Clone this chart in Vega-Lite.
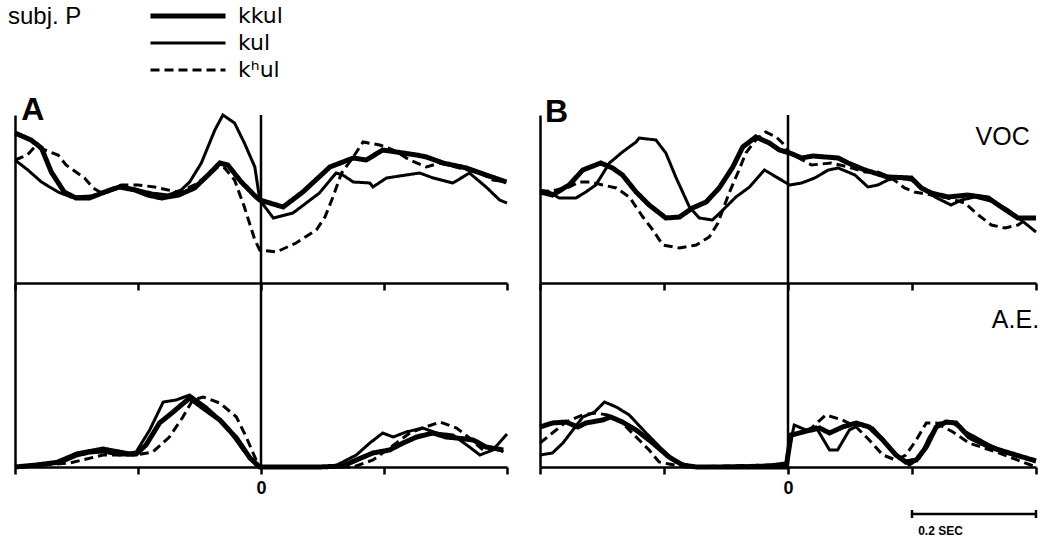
{
 "$schema": "https://vega.github.io/schema/vega-lite/v6.json",
 "background": "white",
 "padding": 5,
 "bounds": "flush",
 "columns": 2,
 "spacing": {"row": 0, "column": 33},
 "config": {
  "view": {"stroke": null},
  "font": "Liberation Sans",
  "axis": {"domainColor": "black", "domainWidth": 2.5, "tickColor": "black", "tickWidth": 2.5, "grid": false, "title": null},
  "legend": {
   "orient": "none", "legendX": -7, "legendY": -110, "padding": 0,
   "titleOrient": "left", "titleFont": "Liberation Sans", "titleFontSize": 24, "titleFontWeight": "normal", "titleColor": "black",
   "titlePadding": 66, "titleBaseline": "top", "titleAnchor": "start", "titleLimit": 300,
   "labelFont": "DejaVu Sans", "labelFontSize": 22, "labelColor": "black", "labelOffset": 10,
   "symbolType": "stroke", "symbolSize": 5625, "symbolStrokeColor": "black", "clipHeight": 22, "rowPadding": 5
  }
 },
 "datasets": {
  "AV": [
   {"s":"kkul","t":-400,"v":150},{"s":"kkul","t":-374,"v":143},{"s":"kkul","t":-357,"v":135},{"s":"kkul","t":-341,"v":111},{"s":"kkul","t":-320,"v":91},{"s":"kkul","t":-301,"v":85},{"s":"kkul","t":-279,"v":85},{"s":"kkul","t":-254,"v":91},{"s":"kkul","t":-230,"v":96},{"s":"kkul","t":-205,"v":93},{"s":"kkul","t":-184,"v":88},{"s":"kkul","t":-162,"v":85},{"s":"kkul","t":-134,"v":88},{"s":"kkul","t":-108,"v":95},{"s":"kkul","t":-86,"v":108},{"s":"kkul","t":-67,"v":120},{"s":"kkul","t":-54,"v":118},{"s":"kkul","t":-32,"v":101},{"s":"kkul","t":-8,"v":86},{"s":"kkul","t":-2,"v":83},{"s":"kkul","t":36,"v":76},{"s":"kkul","t":68,"v":91},{"s":"kkul","t":112,"v":116},{"s":"kkul","t":150,"v":125},{"s":"kkul","t":171,"v":123},{"s":"kkul","t":198,"v":133},{"s":"kkul","t":220,"v":131},{"s":"kkul","t":253,"v":128},{"s":"kkul","t":269,"v":126},{"s":"kkul","t":296,"v":120},{"s":"kkul","t":334,"v":115},{"s":"kkul","t":366,"v":108},{"s":"kkul","t":399,"v":101},
   {"s":"kul","t":-400,"v":123},{"s":"kul","t":-379,"v":113},{"s":"kul","t":-357,"v":101},{"s":"kul","t":-330,"v":91},{"s":"kul","t":-309,"v":86},{"s":"kul","t":-276,"v":87},{"s":"kul","t":-249,"v":91},{"s":"kul","t":-230,"v":97},{"s":"kul","t":-205,"v":94},{"s":"kul","t":-178,"v":90},{"s":"kul","t":-151,"v":88},{"s":"kul","t":-130,"v":93},{"s":"kul","t":-116,"v":101},{"s":"kul","t":-97,"v":120},{"s":"kul","t":-75,"v":153},{"s":"kul","t":-62,"v":168},{"s":"kul","t":-43,"v":160},{"s":"kul","t":-27,"v":140},{"s":"kul","t":-10,"v":116},{"s":"kul","t":-2,"v":83},{"s":"kul","t":20,"v":65},{"s":"kul","t":52,"v":70},{"s":"kul","t":95,"v":90},{"s":"kul","t":122,"v":110},{"s":"kul","t":133,"v":108},{"s":"kul","t":150,"v":101},{"s":"kul","t":177,"v":100},{"s":"kul","t":182,"v":96},{"s":"kul","t":204,"v":105},{"s":"kul","t":236,"v":108},{"s":"kul","t":258,"v":110},{"s":"kul","t":280,"v":105},{"s":"kul","t":312,"v":100},{"s":"kul","t":339,"v":110},{"s":"kul","t":366,"v":96},{"s":"kul","t":388,"v":83},{"s":"kul","t":400,"v":80},
   {"s":"kʰul","t":-400,"v":123},{"s":"kʰul","t":-380,"v":128},{"s":"kʰul","t":-368,"v":136},{"s":"kʰul","t":-360,"v":135},{"s":"kʰul","t":-330,"v":128},{"s":"kʰul","t":-317,"v":118},{"s":"kʰul","t":-287,"v":105},{"s":"kʰul","t":-273,"v":95},{"s":"kʰul","t":-262,"v":91},{"s":"kʰul","t":-249,"v":93},{"s":"kʰul","t":-227,"v":98},{"s":"kʰul","t":-200,"v":98},{"s":"kʰul","t":-173,"v":96},{"s":"kʰul","t":-151,"v":93},{"s":"kʰul","t":-135,"v":91},{"s":"kʰul","t":-108,"v":98},{"s":"kʰul","t":-81,"v":110},{"s":"kʰul","t":-70,"v":116},{"s":"kʰul","t":-59,"v":115},{"s":"kʰul","t":-43,"v":103},{"s":"kʰul","t":-27,"v":76},{"s":"kʰul","t":-10,"v":43},{"s":"kʰul","t":-2,"v":33},{"s":"kʰul","t":25,"v":31},{"s":"kʰul","t":57,"v":40},{"s":"kʰul","t":90,"v":53},{"s":"kʰul","t":104,"v":66},{"s":"kʰul","t":117,"v":86},{"s":"kʰul","t":131,"v":110},{"s":"kʰul","t":150,"v":126},{"s":"kʰul","t":166,"v":141},{"s":"kʰul","t":193,"v":138},{"s":"kʰul","t":215,"v":133},{"s":"kʰul","t":242,"v":123},{"s":"kʰul","t":269,"v":116},{"s":"kʰul","t":291,"v":120},{"s":"kʰul","t":323,"v":115},{"s":"kʰul","t":356,"v":110},{"s":"kʰul","t":377,"v":103},{"s":"kʰul","t":399,"v":101}
  ],
  "BV": [
   {"s":"kkul","t":-400,"v":91},{"s":"kkul","t":-380,"v":88},{"s":"kkul","t":-353,"v":98},{"s":"kkul","t":-331,"v":113},{"s":"kkul","t":-302,"v":120},{"s":"kkul","t":-283,"v":115},{"s":"kkul","t":-267,"v":108},{"s":"kkul","t":-245,"v":91},{"s":"kkul","t":-224,"v":78},{"s":"kkul","t":-197,"v":65},{"s":"kkul","t":-175,"v":66},{"s":"kkul","t":-154,"v":75},{"s":"kkul","t":-132,"v":81},{"s":"kkul","t":-111,"v":95},{"s":"kkul","t":-89,"v":116},{"s":"kkul","t":-73,"v":136},{"s":"kkul","t":-52,"v":146},{"s":"kkul","t":-30,"v":140},{"s":"kkul","t":-14,"v":133},{"s":"kkul","t":3,"v":130},{"s":"kkul","t":22,"v":125},{"s":"kkul","t":40,"v":127},{"s":"kkul","t":81,"v":125},{"s":"kkul","t":97,"v":120},{"s":"kkul","t":124,"v":113},{"s":"kkul","t":161,"v":106},{"s":"kkul","t":199,"v":105},{"s":"kkul","t":215,"v":95},{"s":"kkul","t":231,"v":90},{"s":"kkul","t":258,"v":86},{"s":"kkul","t":290,"v":88},{"s":"kkul","t":323,"v":85},{"s":"kkul","t":344,"v":76},{"s":"kkul","t":371,"v":65},{"s":"kkul","t":387,"v":65},{"s":"kkul","t":400,"v":65},
   {"s":"kul","t":-400,"v":93},{"s":"kul","t":-385,"v":91},{"s":"kul","t":-369,"v":85},{"s":"kul","t":-342,"v":85},{"s":"kul","t":-326,"v":91},{"s":"kul","t":-310,"v":98},{"s":"kul","t":-288,"v":120},{"s":"kul","t":-267,"v":131},{"s":"kul","t":-245,"v":141},{"s":"kul","t":-240,"v":145},{"s":"kul","t":-213,"v":143},{"s":"kul","t":-197,"v":130},{"s":"kul","t":-181,"v":106},{"s":"kul","t":-159,"v":76},{"s":"kul","t":-143,"v":65},{"s":"kul","t":-122,"v":63},{"s":"kul","t":-105,"v":73},{"s":"kul","t":-84,"v":86},{"s":"kul","t":-62,"v":96},{"s":"kul","t":-38,"v":113},{"s":"kul","t":-19,"v":106},{"s":"kul","t":3,"v":98},{"s":"kul","t":22,"v":100},{"s":"kul","t":43,"v":105},{"s":"kul","t":65,"v":113},{"s":"kul","t":81,"v":115},{"s":"kul","t":108,"v":108},{"s":"kul","t":129,"v":96},{"s":"kul","t":145,"v":98},{"s":"kul","t":161,"v":103},{"s":"kul","t":177,"v":105},{"s":"kul","t":199,"v":103},{"s":"kul","t":215,"v":96},{"s":"kul","t":237,"v":86},{"s":"kul","t":263,"v":78},{"s":"kul","t":280,"v":83},{"s":"kul","t":301,"v":86},{"s":"kul","t":333,"v":81},{"s":"kul","t":355,"v":73},{"s":"kul","t":376,"v":63},{"s":"kul","t":400,"v":51},
   {"s":"kʰul","t":-400,"v":91},{"s":"kʰul","t":-374,"v":93},{"s":"kʰul","t":-353,"v":96},{"s":"kʰul","t":-337,"v":101},{"s":"kʰul","t":-318,"v":101},{"s":"kʰul","t":-299,"v":98},{"s":"kʰul","t":-277,"v":95},{"s":"kʰul","t":-256,"v":86},{"s":"kʰul","t":-234,"v":66},{"s":"kʰul","t":-218,"v":53},{"s":"kʰul","t":-202,"v":38},{"s":"kʰul","t":-175,"v":35},{"s":"kʰul","t":-148,"v":38},{"s":"kʰul","t":-127,"v":46},{"s":"kʰul","t":-113,"v":60},{"s":"kʰul","t":-95,"v":90},{"s":"kʰul","t":-79,"v":113},{"s":"kʰul","t":-68,"v":130},{"s":"kʰul","t":-52,"v":143},{"s":"kʰul","t":-36,"v":151},{"s":"kʰul","t":-19,"v":146},{"s":"kʰul","t":-9,"v":140},{"s":"kʰul","t":3,"v":130},{"s":"kʰul","t":38,"v":118},{"s":"kʰul","t":70,"v":120},{"s":"kʰul","t":97,"v":116},{"s":"kʰul","t":124,"v":111},{"s":"kʰul","t":145,"v":111},{"s":"kʰul","t":167,"v":105},{"s":"kʰul","t":188,"v":95},{"s":"kʰul","t":204,"v":91},{"s":"kʰul","t":231,"v":88},{"s":"kʰul","t":258,"v":85},{"s":"kʰul","t":285,"v":80},{"s":"kʰul","t":307,"v":68},{"s":"kʰul","t":328,"v":58},{"s":"kʰul","t":350,"v":55},{"s":"kʰul","t":371,"v":58},{"s":"kʰul","t":387,"v":65}
  ],
  "AE": [
   {"s":"kkul","t":-400,"v":0},{"s":"kkul","t":-365,"v":2},{"s":"kkul","t":-327,"v":5},{"s":"kkul","t":-300,"v":12},{"s":"kkul","t":-279,"v":15},{"s":"kkul","t":-257,"v":16},{"s":"kkul","t":-230,"v":13},{"s":"kkul","t":-203,"v":13},{"s":"kkul","t":-187,"v":22},{"s":"kkul","t":-165,"v":44},{"s":"kkul","t":-143,"v":55},{"s":"kkul","t":-116,"v":69},{"s":"kkul","t":-94,"v":59},{"s":"kkul","t":-67,"v":47},{"s":"kkul","t":-40,"v":29},{"s":"kkul","t":-18,"v":9},{"s":"kkul","t":-2,"v":0},{"s":"kkul","t":95,"v":0},{"s":"kkul","t":133,"v":1},{"s":"kkul","t":155,"v":7},{"s":"kkul","t":182,"v":14},{"s":"kkul","t":209,"v":17},{"s":"kkul","t":231,"v":24},{"s":"kkul","t":253,"v":30},{"s":"kkul","t":280,"v":34},{"s":"kkul","t":301,"v":30},{"s":"kkul","t":318,"v":29},{"s":"kkul","t":345,"v":27},{"s":"kkul","t":366,"v":20},{"s":"kkul","t":394,"v":17},
   {"s":"kul","t":-400,"v":0},{"s":"kul","t":-338,"v":4},{"s":"kul","t":-300,"v":14},{"s":"kul","t":-257,"v":19},{"s":"kul","t":-214,"v":14},{"s":"kul","t":-203,"v":15},{"s":"kul","t":-181,"v":37},{"s":"kul","t":-159,"v":65},{"s":"kul","t":-138,"v":67},{"s":"kul","t":-116,"v":72},{"s":"kul","t":-89,"v":60},{"s":"kul","t":-62,"v":45},{"s":"kul","t":-29,"v":17},{"s":"kul","t":-8,"v":2},{"s":"kul","t":-2,"v":0},{"s":"kul","t":117,"v":0},{"s":"kul","t":133,"v":5},{"s":"kul","t":155,"v":12},{"s":"kul","t":177,"v":24},{"s":"kul","t":198,"v":34},{"s":"kul","t":215,"v":30},{"s":"kul","t":236,"v":35},{"s":"kul","t":263,"v":39},{"s":"kul","t":285,"v":34},{"s":"kul","t":312,"v":32},{"s":"kul","t":339,"v":20},{"s":"kul","t":356,"v":12},{"s":"kul","t":377,"v":17},{"s":"kul","t":400,"v":33},
   {"s":"kʰul","t":-400,"v":0},{"s":"kʰul","t":-311,"v":4},{"s":"kʰul","t":-257,"v":12},{"s":"kʰul","t":-203,"v":12},{"s":"kʰul","t":-176,"v":15},{"s":"kʰul","t":-149,"v":30},{"s":"kʰul","t":-127,"v":50},{"s":"kʰul","t":-111,"v":67},{"s":"kʰul","t":-94,"v":70},{"s":"kʰul","t":-67,"v":64},{"s":"kʰul","t":-40,"v":50},{"s":"kʰul","t":-24,"v":30},{"s":"kʰul","t":-8,"v":7},{"s":"kʰul","t":-2,"v":0},{"s":"kʰul","t":150,"v":0},{"s":"kʰul","t":182,"v":7},{"s":"kʰul","t":209,"v":19},{"s":"kʰul","t":242,"v":34},{"s":"kʰul","t":263,"v":39},{"s":"kʰul","t":291,"v":45},{"s":"kʰul","t":318,"v":39},{"s":"kʰul","t":339,"v":29},{"s":"kʰul","t":361,"v":17},{"s":"kʰul","t":383,"v":20},{"s":"kʰul","t":394,"v":15}
  ],
  "BE": [
   {"s":"kkul","t":-400,"v":40},{"s":"kkul","t":-380,"v":44},{"s":"kkul","t":-358,"v":45},{"s":"kkul","t":-339,"v":40},{"s":"kkul","t":-326,"v":44},{"s":"kkul","t":-299,"v":47},{"s":"kkul","t":-286,"v":50},{"s":"kkul","t":-267,"v":45},{"s":"kkul","t":-245,"v":37},{"s":"kkul","t":-218,"v":24},{"s":"kkul","t":-192,"v":10},{"s":"kkul","t":-170,"v":2},{"s":"kkul","t":-148,"v":0},{"s":"kkul","t":-3,"v":0},{"s":"kkul","t":5,"v":32},{"s":"kkul","t":24,"v":35},{"s":"kkul","t":51,"v":39},{"s":"kkul","t":67,"v":34},{"s":"kkul","t":88,"v":40},{"s":"kkul","t":110,"v":44},{"s":"kkul","t":131,"v":40},{"s":"kkul","t":153,"v":27},{"s":"kkul","t":174,"v":12},{"s":"kkul","t":190,"v":5},{"s":"kkul","t":207,"v":7},{"s":"kkul","t":223,"v":20},{"s":"kkul","t":239,"v":40},{"s":"kkul","t":255,"v":45},{"s":"kkul","t":271,"v":44},{"s":"kkul","t":292,"v":30},{"s":"kkul","t":325,"v":20},{"s":"kkul","t":357,"v":14},{"s":"kkul","t":400,"v":6},
   {"s":"kul","t":-400,"v":12},{"s":"kul","t":-380,"v":14},{"s":"kul","t":-363,"v":24},{"s":"kul","t":-347,"v":37},{"s":"kul","t":-331,"v":50},{"s":"kul","t":-312,"v":55},{"s":"kul","t":-296,"v":65},{"s":"kul","t":-277,"v":60},{"s":"kul","t":-256,"v":52},{"s":"kul","t":-229,"v":34},{"s":"kul","t":-202,"v":17},{"s":"kul","t":-181,"v":5},{"s":"kul","t":-159,"v":1},{"s":"kul","t":-137,"v":0},{"s":"kul","t":-30,"v":2},{"s":"kul","t":-3,"v":4},{"s":"kul","t":10,"v":42},{"s":"kul","t":29,"v":37},{"s":"kul","t":45,"v":40},{"s":"kul","t":67,"v":17},{"s":"kul","t":80,"v":17},{"s":"kul","t":99,"v":37},{"s":"kul","t":115,"v":42},{"s":"kul","t":137,"v":39},{"s":"kul","t":158,"v":24},{"s":"kul","t":180,"v":9},{"s":"kul","t":196,"v":2},{"s":"kul","t":212,"v":9},{"s":"kul","t":228,"v":30},{"s":"kul","t":244,"v":44},{"s":"kul","t":266,"v":44},{"s":"kul","t":287,"v":35},{"s":"kul","t":325,"v":22},{"s":"kul","t":362,"v":12},{"s":"kul","t":400,"v":7},
   {"s":"kʰul","t":-400,"v":24},{"s":"kʰul","t":-380,"v":34},{"s":"kʰul","t":-358,"v":45},{"s":"kʰul","t":-331,"v":52},{"s":"kʰul","t":-310,"v":54},{"s":"kʰul","t":-291,"v":52},{"s":"kʰul","t":-267,"v":44},{"s":"kʰul","t":-245,"v":30},{"s":"kʰul","t":-224,"v":17},{"s":"kʰul","t":-208,"v":5},{"s":"kʰul","t":-192,"v":3},{"s":"kʰul","t":-165,"v":0},{"s":"kʰul","t":-30,"v":2},{"s":"kʰul","t":-3,"v":2},{"s":"kʰul","t":2,"v":30},{"s":"kʰul","t":34,"v":37},{"s":"kʰul","t":61,"v":52},{"s":"kʰul","t":88,"v":47},{"s":"kʰul","t":110,"v":40},{"s":"kʰul","t":131,"v":27},{"s":"kʰul","t":153,"v":12},{"s":"kʰul","t":174,"v":7},{"s":"kʰul","t":190,"v":12},{"s":"kʰul","t":207,"v":27},{"s":"kʰul","t":223,"v":44},{"s":"kʰul","t":239,"v":44},{"s":"kʰul","t":266,"v":35},{"s":"kʰul","t":292,"v":24},{"s":"kʰul","t":336,"v":15},{"s":"kʰul","t":400,"v":0}
  ]
 },
 "resolve": {"scale": {"strokeDash": "shared", "strokeWidth": "shared"}, "legend": {"strokeDash": "shared", "strokeWidth": "shared"}},
 "concat": [
   {"width": 492, "height": 168, "data": {"name": "AV"}, "layer": [
    {"mark": {"type": "line", "color": "black"},
     "encoding": {
      "x": {"field": "t", "type": "quantitative", "scale": {"domain": [-400, 400], "nice": false, "zero": false}, "axis": {"title": null, "labels": false, "tickSize": 7, "values": [-400, -200, 0, 200, 400]}},
      "y": {"field": "v", "type": "quantitative", "scale": {"domain": [0, 168], "nice": false, "zero": false}, "axis": {"title": null, "labels": false, "ticks": false}},
      "strokeDash": {"field": "s", "type": "nominal", "scale": {"domain": ["kkul", "kul", "kʰul"], "range": [[1, 0], [1, 0], [9, 5]]}, "legend": {"title": "subj. P"}},
      "strokeWidth": {"field": "s", "type": "nominal", "scale": {"type": "ordinal", "domain": ["kkul", "kul", "kʰul"], "range": [5, 3, 3]}, "legend": {"title": "subj. P"}}
     }},
    {"data": {"values": [{}]}, "mark": {"type": "rule", "color": "black", "strokeWidth": 2.5}, "encoding": {"x": {"datum": 0}}},
    {"data": {"values": [{}]}, "mark": {"type": "text", "text": "A", "font": "Liberation Sans", "fontSize": 32, "fontWeight": "bold", "align": "left", "baseline": "alphabetic", "color": "black"}, "encoding": {"x": {"datum": -390}, "y": {"datum": 163}}}
   ]},
   {"width": 496, "height": 168, "data": {"name": "BV"}, "layer": [
    {"mark": {"type": "line", "color": "black"},
     "encoding": {
      "x": {"field": "t", "type": "quantitative", "scale": {"domain": [-400, 400], "nice": false, "zero": false}, "axis": {"title": null, "labels": false, "tickSize": 7, "values": [-400, -200, 0, 200, 400]}},
      "y": {"field": "v", "type": "quantitative", "scale": {"domain": [0, 168], "nice": false, "zero": false}, "axis": {"title": null, "labels": false, "ticks": false}},
      "strokeDash": {"field": "s", "type": "nominal", "scale": {"domain": ["kkul", "kul", "kʰul"], "range": [[1, 0], [1, 0], [9, 5]]}, "legend": {"title": "subj. P"}},
      "strokeWidth": {"field": "s", "type": "nominal", "scale": {"type": "ordinal", "domain": ["kkul", "kul", "kʰul"], "range": [5, 3, 3]}, "legend": {"title": "subj. P"}}
     }},
    {"data": {"values": [{}]}, "mark": {"type": "rule", "color": "black", "strokeWidth": 2.5}, "encoding": {"x": {"datum": 0}}},
    {"data": {"values": [{}]}, "mark": {"type": "text", "text": "B", "font": "Liberation Sans", "fontSize": 32, "fontWeight": "bold", "align": "left", "baseline": "alphabetic", "color": "black"}, "encoding": {"x": {"datum": -392}, "y": {"datum": 161}}},
    {"data": {"values": [{}]}, "mark": {"type": "text", "text": "VOC", "font": "Liberation Sans", "fontSize": 25, "align": "right", "baseline": "alphabetic", "color": "black"}, "encoding": {"x": {"datum": 390}, "y": {"datum": 138}}}
   ]},
   {"width": 492, "height": 184, "data": {"name": "AE"}, "layer": [
    {"mark": {"type": "line", "color": "black"},
     "encoding": {
      "x": {"field": "t", "type": "quantitative", "scale": {"domain": [-400, 400], "nice": false, "zero": false}, "axis": {"title": null, "tickSize": 7, "values": [-400, -200, 0, 200, 400], "labelExpr": "datum.value == 0 ? '0' : ''", "labelFont": "Liberation Sans", "labelFontSize": 18, "labelFontWeight": "bold", "labelColor": "black", "labelPadding": 5}},
      "y": {"field": "v", "type": "quantitative", "scale": {"domain": [0, 184], "nice": false, "zero": false}, "axis": {"title": null, "labels": false, "ticks": false}},
      "strokeDash": {"field": "s", "type": "nominal", "scale": {"domain": ["kkul", "kul", "kʰul"], "range": [[1, 0], [1, 0], [9, 5]]}, "legend": {"title": "subj. P"}},
      "strokeWidth": {"field": "s", "type": "nominal", "scale": {"type": "ordinal", "domain": ["kkul", "kul", "kʰul"], "range": [5, 3, 3]}, "legend": {"title": "subj. P"}}
     }},
    {"data": {"values": [{}]}, "mark": {"type": "rule", "color": "black", "strokeWidth": 2.5}, "encoding": {"x": {"datum": 0}}}
   ]},
   {"width": 496, "height": 184, "data": {"name": "BE"}, "layer": [
    {"mark": {"type": "line", "color": "black"},
     "encoding": {
      "x": {"field": "t", "type": "quantitative", "scale": {"domain": [-400, 400], "nice": false, "zero": false}, "axis": {"title": null, "tickSize": 7, "values": [-400, -200, 0, 200, 400], "labelExpr": "datum.value == 0 ? '0' : ''", "labelFont": "Liberation Sans", "labelFontSize": 18, "labelFontWeight": "bold", "labelColor": "black", "labelPadding": 5}},
      "y": {"field": "v", "type": "quantitative", "scale": {"domain": [0, 184], "nice": false, "zero": false}, "axis": {"title": null, "labels": false, "ticks": false}},
      "strokeDash": {"field": "s", "type": "nominal", "scale": {"domain": ["kkul", "kul", "kʰul"], "range": [[1, 0], [1, 0], [9, 5]]}, "legend": {"title": "subj. P"}},
      "strokeWidth": {"field": "s", "type": "nominal", "scale": {"type": "ordinal", "domain": ["kkul", "kul", "kʰul"], "range": [5, 3, 3]}, "legend": {"title": "subj. P"}}
     }},
    {"data": {"values": [{}]}, "mark": {"type": "rule", "color": "black", "strokeWidth": 2.5}, "encoding": {"x": {"datum": 0}}},
    {"data": {"values": [{}]}, "mark": {"type": "text", "text": "A.E.", "font": "Liberation Sans", "fontSize": 25, "align": "right", "baseline": "alphabetic", "color": "black"}, "encoding": {"x": {"datum": 405}, "y": {"datum": 139}}},
    {"data": {"values": [{}]}, "mark": {"type": "rule", "color": "black", "strokeWidth": 2.5}, "encoding": {"x": {"datum": 200}, "x2": {"datum": 400}, "y": {"datum": -47}}},
    {"data": {"values": [{}]}, "mark": {"type": "rule", "color": "black", "strokeWidth": 2.5}, "encoding": {"x": {"datum": 200}, "y": {"datum": -43}, "y2": {"datum": -51}}},
    {"data": {"values": [{}]}, "mark": {"type": "rule", "color": "black", "strokeWidth": 2.5}, "encoding": {"x": {"datum": 400}, "y": {"datum": -43}, "y2": {"datum": -51}}},
    {"data": {"values": [{}]}, "mark": {"type": "text", "text": "0.2 SEC", "font": "Liberation Sans", "fontSize": 12, "fontWeight": "bold", "align": "left", "baseline": "alphabetic", "color": "black"}, "encoding": {"x": {"datum": 210}, "y": {"datum": -68}}}
   ]}
 ]
}
